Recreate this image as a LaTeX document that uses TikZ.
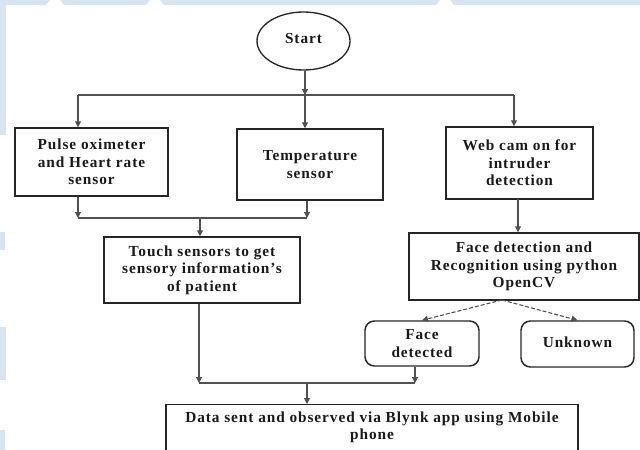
\documentclass[tikz,border=0pt]{standalone}
\usepackage{fontspec}
\setmainfont{Liberation Serif}
\usetikzlibrary{shapes.geometric,arrows.meta}
\definecolor{wm}{HTML}{D8E5EE}
\definecolor{conn}{HTML}{505050}
\tikzset{
  boxtext/.style={font=\bfseries\fontsize{11.5pt}{13pt}\selectfont\addfontfeature{LetterSpace=6}, align=center, text=black!90},
  plainbox/.style={boxtext, draw=black!85, line width=1.1pt, rectangle, inner sep=2pt},
  roundbox/.style={plainbox, rounded corners=7pt},
  startnode/.style={boxtext, draw=black!85, line width=1pt, ellipse, inner sep=1pt},
  conline/.style={draw=conn, line width=0.8pt},
  arr/.style={conline, -{Triangle[length=4.5pt,width=4.5pt]}},
  dasharr/.style={arr, dashed, dash pattern=on 3pt off 1.5pt}
}
\begin{document}
\begin{tikzpicture}[x=0.75pt,y=-0.75pt]
\useasboundingbox (0,0) rectangle (640,450);
\clip (0,0) rectangle (640,450);
% faint watermark
\fill[wm] (0,0) -- (50,0) -- (46,5) -- (0,5) -- cycle;
\fill[wm] (60,0) -- (150,0) -- (146,5) -- (64,5) -- cycle;
\fill[wm] (160,0) -- (440,0) -- (436,5) -- (164,5) -- cycle;
\fill[wm] (450,0) -- (640,0) -- (640,5) -- (454,5) -- cycle;
\fill[wm] (0,5) rectangle (6,135);
\fill[wm] (0,232) rectangle (5,250);
\fill[wm] (0,327) rectangle (6,380);
\fill[wm] (0,430) rectangle (5,450);

% nodes
\node[startnode, minimum width=69.75pt, minimum height=43.5pt] (start) at (303.5,41) {\raisebox{4pt}{Start}};
\node[plainbox, minimum width=114.75pt, minimum height=51pt] (pulse) at (91.5,162) {Pulse oximeter\\and Heart rate\\sensor};
\node[plainbox, minimum width=109.5pt, minimum height=53.25pt] (temp) at (310,164.5) {Temperature\\sensor};
\node[plainbox, minimum width=110.25pt, minimum height=54pt] (web) at (519.5,163) {Web cam on for\\intruder\\detection};
\node[plainbox, minimum width=147pt, minimum height=49.5pt] (touch) at (202,270) {Touch sensors to get\\sensory information's\\of patient};
\node[plainbox, minimum width=172.5pt, minimum height=50.25pt] (face) at (524,266.5) {Face detection and\\Recognition using python\\OpenCV};
\node[roundbox, minimum width=85.5pt, minimum height=33.75pt] (fd) at (422,343.5) {Face\\detected};
\node[roundbox, minimum width=84.75pt, minimum height=34.5pt] (unk) at (577.5,344) {\raisebox{3pt}{Unknown}};
\node[plainbox, anchor=north, minimum width=309pt, inner ysep=5pt] (data) at (372,404) {Data sent and observed via Blynk app using Mobile\\phone\\~\\~\\~};

% junction coordinates
\coordinate (jl) at (78,95);
\coordinate (jt) at (305,95);
\coordinate (jr) at (514,95);
\coordinate (m1l) at (78,218);
\coordinate (m1c) at (200,218);
\coordinate (m1r) at (307,218);
\coordinate (wc) at (518,199);
\coordinate (fb) at (502,300);
\coordinate (m2l) at (199,383);
\coordinate (m2c) at (307,383);
\coordinate (m2r) at (415,383);

% connectors
\draw[arr] (start.south -| jt) -- (jt);
\draw[conline] (jl) -- (jr);
\draw[arr] (jl) -- (jl |- pulse.north);
\draw[arr] (jt) -- (jt |- temp.north);
\draw[arr] (jr) -- (jr |- web.north);

\draw[arr] (pulse.south -| m1l) -- (m1l);
\draw[arr] (temp.south -| m1r) -- (m1r);
\draw[conline] (m1l) -- (m1r);
\draw[arr] (m1c) -- (m1c |- touch.north);

\draw[arr] (wc) -- (wc |- face.north);
\draw[dasharr] (fb) -- (fd.north);
\draw[dasharr] (fb) -- (unk.north);

\draw[arr] (touch.south -| m2l) -- (m2l);
\draw[arr] (fd.south -| m2r) -- (m2r);
\draw[conline] (m2l) -- (m2r);
\draw[arr] (m2c) -- (m2c |- data.north);
\end{tikzpicture}
\end{document}
